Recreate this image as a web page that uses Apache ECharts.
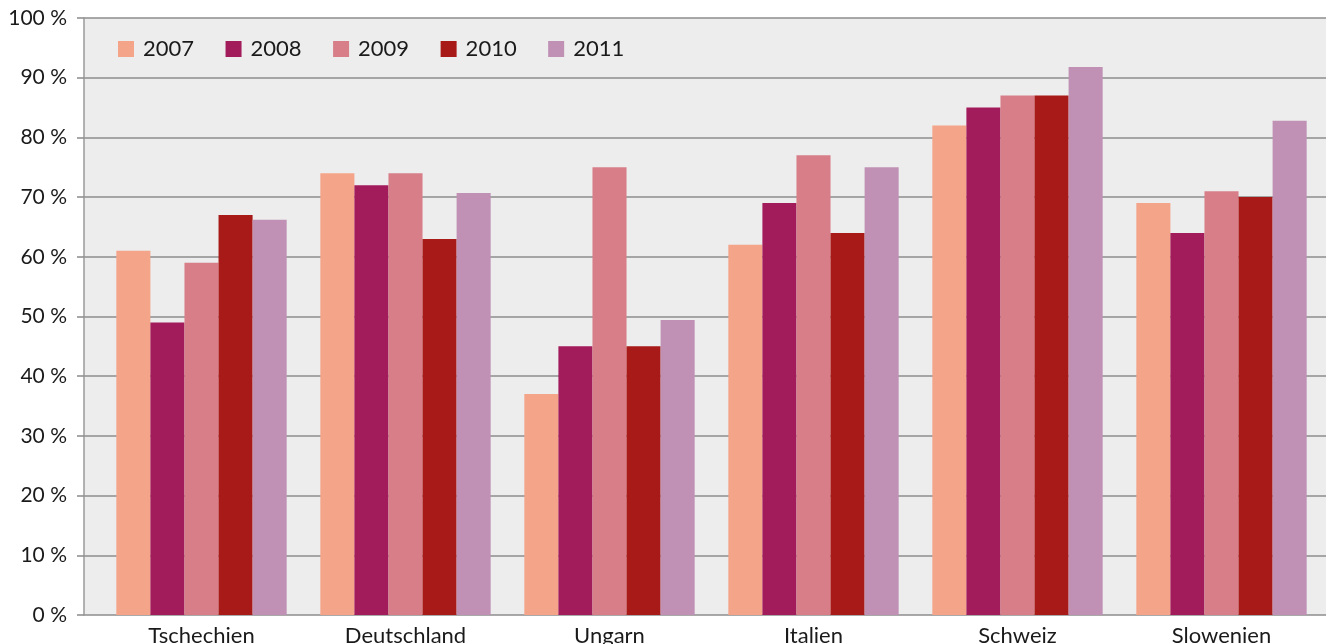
<!DOCTYPE html>
<html><head><meta charset="utf-8">
<script src="https://cdn.jsdelivr.net/npm/echarts@6/dist/echarts.min.js"></script>
<style>html,body{margin:0;padding:0;background:#fff}#c{width:1326px;height:644px}</style>
</head><body><div id="c"></div>
<script>
const categories = ['Tschechien','Deutschland','Ungarn','Italien','Schweiz','Slowenien'];
const years = ['2007','2008','2009','2010','2011'];
const v2007 = [61, 74, 37, 62, 82, 69];
const v2008 = [49, 72, 45, 69, 85, 64];
const v2009 = [59, 74, 75, 77, 87, 71];
const v2010 = [67, 63, 45, 64, 87, 70];
const v2011 = [66.2, 70.7, 49.4, 75, 91.8, 82.8];
const yTicks = [0,10,20,30,40,50,60,70,80,90,100];
const colors = ['#F4A589','#A21B5B','#D77E88','#A71A17','#C091B5'];
const seriesValues = [v2007, v2008, v2009, v2010, v2011];
const FONT = 'Lato, "Open Sans", sans-serif';

const chart = echarts.init(document.getElementById('c'));
chart.setOption({
  animation: false,
  textStyle: {fontFamily: FONT},
  grid: [
    {left: 84, right: 0, top: 18, bottom: 29, show: true, backgroundColor: '#EDEDED', borderWidth: 0, outerBoundsMode: 'none', containLabel: false},
    {left: 99.5, right: 2.5, top: 18, bottom: 29, outerBoundsMode: 'none', containLabel: false}
  ],
  legend: {
    left: 118, top: 38, padding: 0, itemWidth: 16, itemHeight: 16, itemGap: 31.5,
    icon: 'rect',
    textStyle: {fontSize: 22, color: '#1a1a1a', fontFamily: FONT, padding: [0,0,0,4]},
    data: years
  },
  xAxis: [
    {gridIndex: 0, type: 'value', min: 0, max: 1, show: false},
    {gridIndex: 1, type: 'category', data: categories,
     axisLine: {show: false}, axisTick: {show: false},
     axisLabel: {fontSize: 22, color: '#1a1a1a', margin: 10, fontFamily: FONT}}
  ],
  yAxis: [
    {gridIndex: 0, type: 'value', min: 0, max: 100, interval: 10,
     axisLine: {show: true, lineStyle: {color: '#9a9a9a', width: 1.5}},
     axisTick: {show: true, length: 7, lineStyle: {color: '#8a8a8a', width: 1.5}},
     axisLabel: {fontSize: 21, color: '#1a1a1a', margin: 17, fontFamily: FONT,
       formatter: v => yTicks.includes(v) ? v + ' %' : ''},
     splitLine: {show: true, lineStyle: {color: '#8c8c8c', width: 1.5}}},
    {gridIndex: 1, type: 'value', min: 0, max: 100, interval: 10, show: false, splitLine: {show: false}}
  ],
  series: years.map((y, i) => ({
    name: y, type: 'bar', xAxisIndex: 1, yAxisIndex: 1,
    data: seriesValues[i],
    itemStyle: {color: colors[i]},
    barGap: '0%', barCategoryGap: '16.5%'
  }))
});
</script></body></html>
